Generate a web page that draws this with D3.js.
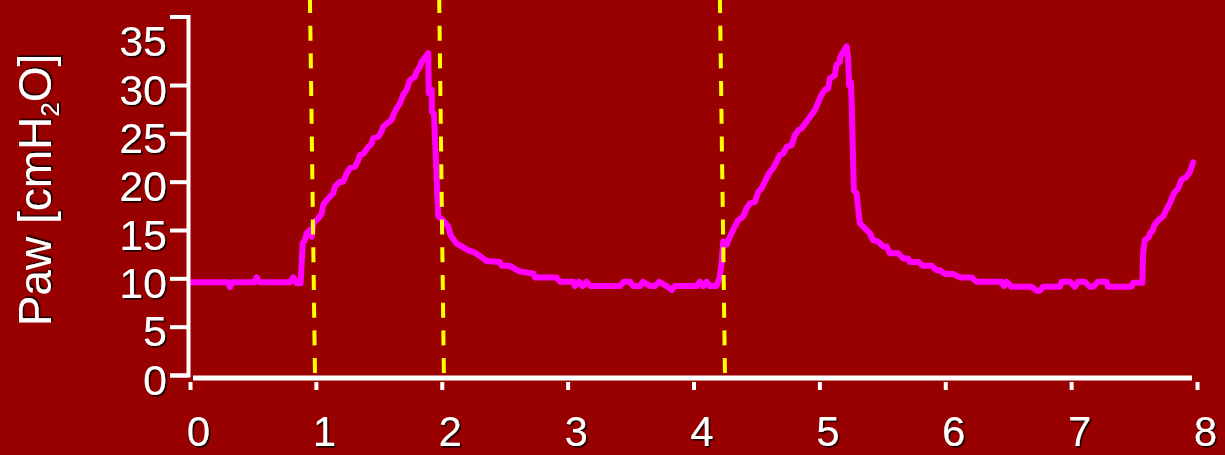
<!DOCTYPE html>
<html>
<head>
<meta charset="utf-8">
<script src="https://cdn.jsdelivr.net/npm/d3@7/dist/d3.min.js"></script>
<style>
  html, body { margin: 0; padding: 0; background: #990000; }
  svg { display: block; }
  text { font-family: "Liberation Sans", Arial, Helvetica, sans-serif; fill: #ffffff; }
</style>
</head>
<body>
<svg id="chart" width="1225" height="455"></svg>
<script>
// Airway pressure trace: time [s] and Paw [cmH2O]
const timeS = [
  0, 0.30, 0.318, 0.335, 0.51, 0.53, 0.55, 0.794, 0.821, 0.847, 0.879,
  0.895, 0.913, 0.927, 0.953, 0.967, 0.98, 1.019, 1.046, 1.059, 1.086, 1.138, 1.152, 1.191, 1.218,
  1.245, 1.271, 1.311, 1.337, 1.35, 1.377, 1.416, 1.443, 1.456, 1.496, 1.522, 1.535, 1.562, 1.602,
  1.615, 1.642, 1.668, 1.694, 1.721, 1.747, 1.787, 1.801, 1.827, 1.84, 1.893,
  1.897, 1.92, 1.922, 1.938, 1.972, 2.012, 2.052, 2.065, 2.078, 2.118, 2.158, 2.211, 2.25, 2.303,
  2.357, 2.462, 2.476, 2.54, 2.62, 2.727, 2.74, 2.91, 2.94, 3.045, 3.058, 3.09, 3.12, 3.15, 3.18,
  3.415, 3.447, 3.495, 3.52, 3.574, 3.6, 3.654, 3.693, 3.727, 3.786, 3.826, 3.852, 4.025, 4.05,
  4.077, 4.104, 4.13, 4.183, 4.21,
  4.223, 4.236, 4.263, 4.302, 4.342, 4.355, 4.395, 4.42, 4.448, 4.488, 4.514, 4.541, 4.58, 4.607,
  4.633, 4.686, 4.712, 4.74, 4.78, 4.805, 4.832, 4.858, 4.964, 5.017, 5.044, 5.07, 5.083, 5.123,
  5.136, 5.163, 5.165, 5.216,
  5.229, 5.236, 5.25, 5.256, 5.274, 5.295, 5.321, 5.348, 5.401, 5.427, 5.467, 5.507, 5.533, 5.56,
  5.626, 5.666, 5.705, 5.719, 5.785, 5.825, 5.891, 5.931, 5.957, 5.997, 6.063, 6.116, 6.209, 6.249,
  6.447, 6.466, 6.487, 6.527, 6.686, 6.725, 6.751, 6.778, 6.91, 6.924, 6.99, 7.03, 7.056, 7.109,
  7.148, 7.175, 7.214, 7.281, 7.294, 7.479, 7.493, 7.566,
  7.572, 7.585, 7.62, 7.625, 7.652, 7.655, 7.691, 7.731, 7.757, 7.784, 7.816, 7.85, 7.877, 7.916,
  7.943, 7.97
];
const pawCmH2O = [
  9.6, 9.6, 9.1, 9.6, 9.6, 10.1, 9.6, 9.6, 10.1, 9.5, 9.5,
  13.6, 13.95, 14.65, 15.0, 14.3, 15.7, 16.2, 16.7, 17.6, 18.1, 18.8, 19.5, 20.0, 20.0,
  20.85, 21.4, 21.55, 22.25, 22.75, 22.9, 23.6, 23.95, 24.5, 24.65, 25.2, 25.7, 26.0, 26.4,
  26.9, 27.6, 28.1, 29.0, 29.5, 30.5, 30.85, 31.4, 31.9, 32.4, 33.3,
  29.15, 29.5, 27.25, 27.05, 16.4, 16.0, 15.35, 14.65, 14.3, 13.6, 13.3, 12.9, 12.75, 12.3,
  11.8, 11.7, 11.3, 11.3, 10.7, 10.5, 10.1, 10.1, 9.65, 9.65, 9.2, 9.65, 9.2, 9.65, 9.2,
  9.2, 9.65, 9.65, 9.2, 9.2, 9.65, 9.2, 9.2, 9.65, 9.2, 8.8, 9.2, 9.2, 9.65,
  9.2, 9.65, 9.2, 9.2, 10.2,
  11.55, 13.8, 13.5, 14.65, 15.7, 16.0, 16.4, 17.2, 17.75, 17.9, 18.95, 19.3, 20.35, 21.0,
  21.4, 22.75, 22.9, 23.6, 23.8, 24.8, 25.3, 25.5, 27.4, 29.0, 29.5, 29.65, 30.7, 31.0,
  32.1, 32.4, 32.9, 34.0,
  32.75, 30.0, 30.3, 28.5, 19.1, 18.8, 15.7, 15.35, 14.65, 13.95, 13.8, 13.3, 13.3, 12.6,
  12.6, 12.05, 12.05, 11.7, 11.7, 11.3, 11.3, 10.85, 10.85, 10.45, 10.45, 10.1, 10.1, 9.65,
  9.65, 9.2, 9.65, 9.13, 9.13, 8.72, 8.72, 9.13, 9.13, 9.65, 9.65, 9.13, 9.65, 9.65,
  9.13, 9.13, 9.65, 9.65, 9.13, 9.13, 9.55, 9.55,
  12.6, 13.95, 14.3, 14.65, 15.0, 15.35, 16.0, 16.4, 17.1, 17.75, 18.8, 19.3, 20.2, 20.5,
  21.0, 22.0
];

// Phase markers (dashed): time at the top edge and at the baseline
const markerTimeTop = [0.953, 1.98, 4.21];
const markerTimeBottom = [0.993, 2.017, 4.25];

// Tick labels
const xTicks = [0, 1, 2, 3, 4, 5, 6, 7, 8];
const yTicks = [0, 5, 10, 15, 20, 25, 30, 35];
const yMax = 37.1;

const svg = d3.select("#chart");
svg.append("rect").attr("width", 1225).attr("height", 455).attr("fill", "#990000");

const defs = svg.append("defs");
const shadow = defs.append("filter").attr("id", "txtShadow")
  .attr("x", "-10%").attr("y", "-10%").attr("width", "130%").attr("height", "130%");
shadow.append("feDropShadow")
  .attr("dx", 1.6).attr("dy", 1.6).attr("stdDeviation", 0.5)
  .attr("flood-color", "#000000").attr("flood-opacity", 0.85);

const x = d3.scaleLinear().domain([0, 8]).range([190, 1197]);
const y = d3.scaleLinear().domain([0, yMax]).range([375, 16.4]);

const points = timeS.map((t, i) => [t, pawCmH2O[i]]);

// Pressure trace
svg.append("path")
  .datum(points)
  .attr("fill", "none")
  .attr("stroke", "#ff00ff")
  .attr("stroke-width", 6)
  .attr("stroke-linejoin", "round")
  .attr("stroke-linecap", "round")
  .attr("d", d3.line().x(d => x(d[0])).y(d => y(d[1])));

// Dashed phase markers spanning the full height
svg.append("g").selectAll("line")
  .data(markerTimeTop.map((t, i) => ({ top: t, bottom: markerTimeBottom[i] })))
  .join("line")
  .attr("x1", d => x(d.top)).attr("y1", 0)
  .attr("x2", d => x(d.bottom)).attr("y2", y(0))
  .attr("stroke", "#ffff00")
  .attr("stroke-width", 4)
  .attr("stroke-dasharray", "15 12.7")
  .attr("stroke-dashoffset", 2);

// Y axis with a capped top end
const yAxisG = svg.append("g")
  .attr("transform", `translate(${x(0) - 2},0)`)
  .call(d3.axisLeft(y).tickValues(yTicks).tickSize(18).tickSizeOuter(18).tickPadding(4));
yAxisG.select(".domain").attr("stroke", "#ffffff").attr("stroke-width", 4).attr("fill", "none");
yAxisG.selectAll(".tick line").attr("stroke", "#ffffff").attr("stroke-width", 4);
// the top label sits beside the axis cap and has no tick mark of its own
yAxisG.selectAll(".tick").filter(d => d === 35).select("line").remove();
yAxisG.selectAll(".tick text")
  .attr("x", -21)
  .attr("dy", 19)
  .attr("fill", "#ffffff")
  .attr("font-size", 43)
  .attr("text-anchor", "end")
  .attr("filter", "url(#txtShadow)");

// X axis: baseline plus short ticks just beneath it
const xAxisG = svg.append("g")
  .attr("transform", `translate(0,382)`)
  .call(d3.axisBottom(x).tickValues(xTicks).tickSize(8).tickSizeOuter(0));
xAxisG.select(".domain")
  .attr("d", `M${x(0) + 3},-4H${x(8) - 5}`)
  .attr("stroke", "#ffffff").attr("stroke-width", 5).attr("fill", "none");
xAxisG.selectAll(".tick line").attr("stroke", "#ffffff").attr("stroke-width", 4);
xAxisG.selectAll(".tick text")
  .attr("y", 64)
  .attr("dy", 0)
  .attr("dx", 8)
  .attr("fill", "#ffffff")
  .attr("font-size", 42)
  .attr("filter", "url(#txtShadow)");

// Y axis title with subscript
const title = svg.append("text")
  .attr("transform", "translate(51,190) rotate(-90)")
  .attr("text-anchor", "middle")
  .attr("font-size", 46)
  .attr("filter", "url(#txtShadow)");
title.append("tspan").text("Paw [cmH");
title.append("tspan").attr("font-size", 26).attr("dy", 8).text("2");
title.append("tspan").attr("dy", -8).text("O]");
</script>
</body>
</html>
